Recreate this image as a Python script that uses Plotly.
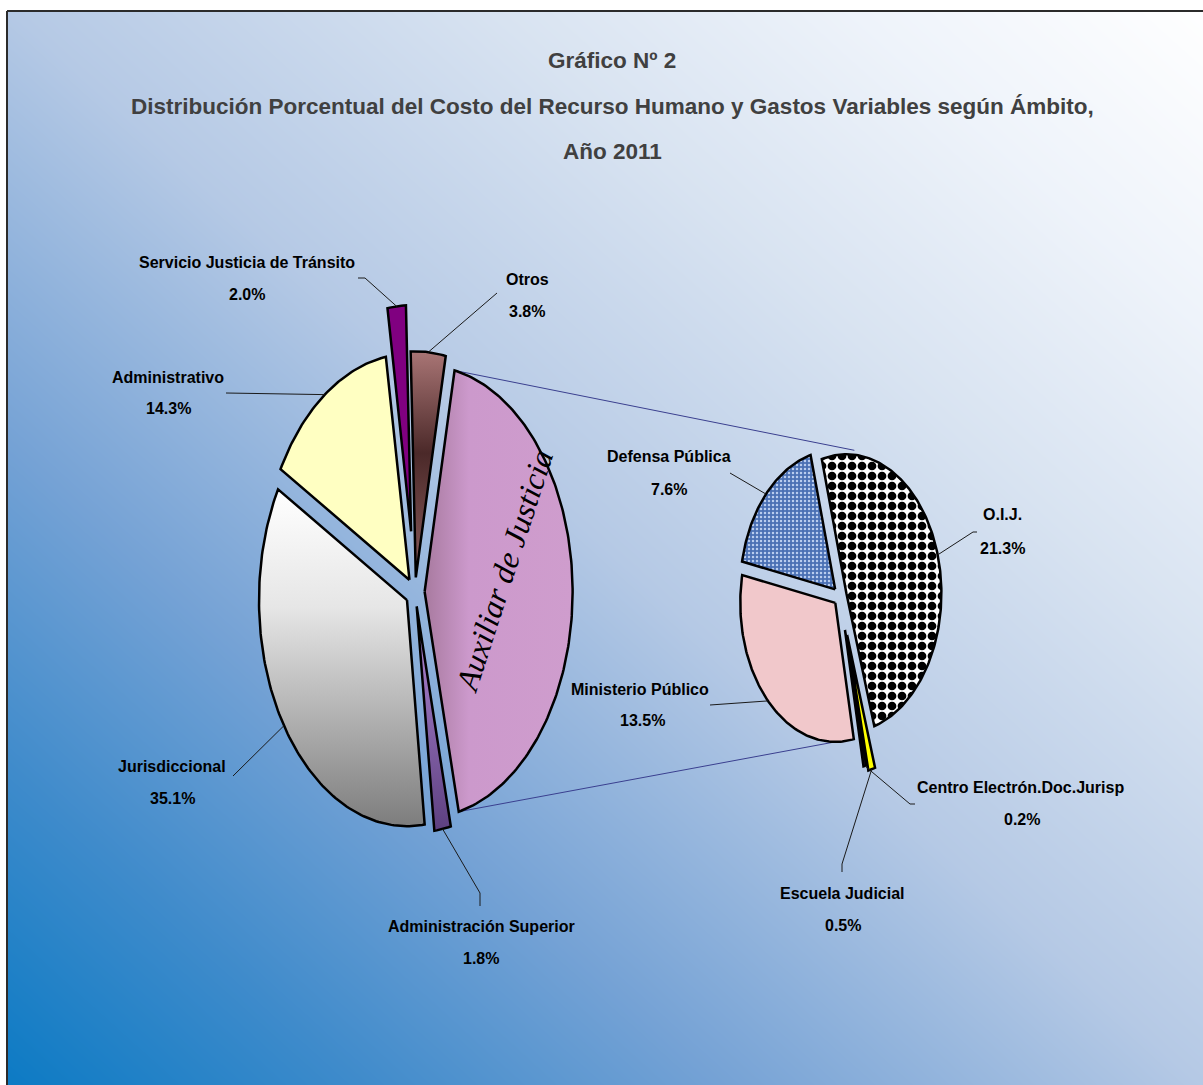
import numpy as np
import plotly.graph_objects as go

# ---------------- data ----------------
title_lines = ["Gráfico Nº 2",
               "Distribución Porcentual del Costo del Recurso Humano y Gastos Variables según Ámbito,",
               "Año 2011"]
main_labels = ["Otros", "Auxiliar de Justicia", "Administración Superior",
               "Jurisdiccional", "Administrativo", "Servicio Justicia de Tránsito"]
main_values = [3.8, 43.1, 1.8, 35.1, 14.3, 2.0]
sub_labels = ["O.I.J.", "Escuela Judicial", "Centro Electrón.Doc.Jurisp",
              "Ministerio Público", "Defensa Pública"]
sub_values = [21.3, 0.5, 0.2, 13.5, 7.6]

# ---------------- layout / style ----------------
W, H = 1203, 1085
FX, FY = 7, 11
FONT = "Liberation Sans Narrow, Arial Narrow, Liberation Sans, Arial, sans-serif"

MAIN = dict(cx=415, cy=592, rx=148, ry=226, start=-2.0)
SUB = dict(cx=840, cy=596, rx=95, ry=139, start=-15.0)
main_explode = [0.065, 0.065, 0.065, 0.065, 0.065, 0.27]
sub_explode = [0.07, 0.29, 0.25, 0.07, 0.07]

main_fill = [
    dict(kind="grad", cs=[[0, "#a97575"], [0.45, "#4b2929"], [1, "#8b5d5d"]]),
    dict(kind="hgrad", cs=[[0, "#a87a9f"], [0.3, "#cc99cc"], [1, "#cf9dcd"]]),
    dict(kind="grad", cs=[[0, "#b48bd8"], [1, "#5d4080"]]),
    dict(kind="grad", cs=[[0, "#ffffff"], [0.35, "#e6e6e6"], [1, "#7d7d7d"]]),
    dict(kind="solid", color="#ffffc2"),
    dict(kind="solid", color="#800080"),
]
sub_fill = [
    dict(kind="pattern", shape=".", bg="#ffffff", fg="#000000", size=10, sol=0.6),
    dict(kind="solid", color="#ffff00"),
    dict(kind="solid", color="#222222"),
    dict(kind="solid", color="#f1c8cb"),
    dict(kind="pattern", shape=".", bg="#4a70b4", fg="#b9cdef", size=4, sol=0.3),
]
# label placements (name centre, percentage centre, leader elbow points)
main_lab = {
    0: dict(name=(527, 279), pct=(527, 311), lead=[(497, 293)]),
    2: dict(name=(481, 926), pct=(481, 958), lead=[(480, 906), (480, 893)]),
    3: dict(name=(172, 766), pct=(172, 798), lead=[(233, 776)]),
    4: dict(name=(168, 377), pct=(168, 408), lead=[(226, 393)]),
    5: dict(name=(247, 262), pct=(247, 294), lead=[(358, 278), (365, 278)]),
}
sub_lab = {
    0: dict(name=(1002, 514), pct=(1002, 548), lead=[(977, 532), (973, 532)]),
    1: dict(name=(842, 893), pct=(843, 925), lead=[(842, 872), (842, 864)]),
    2: dict(name=(1020, 787), pct=(1022, 819), lead=[(915, 804), (910, 804)]),
    3: dict(name=(640, 689), pct=(642, 720), lead=[(710, 705)]),
    4: dict(name=(669, 456), pct=(669, 489), lead=[(730, 473)]),
}

fig = go.Figure()

# background gradient (bottom-left blue -> top-right white)
gx = np.linspace(-20, W + 20, 50)
gy = np.linspace(-20, H + 20, 50)
GX, GY = np.meshgrid(gx, gy)
Z = (GX / W + 1 - GY / H) / 2
fig.add_trace(go.Heatmap(
    x=gx, y=gy, z=Z, zmin=0, zmax=1, zsmooth="best", showscale=False, hoverinfo="skip",
    colorscale=[[0, "#0b7ac4"], [0.15, "#3f8bcb"], [0.3, "#75a2d5"], [0.5, "#b5c9e5"],
                [0.7, "#d8e3f1"], [0.85, "#eef3fa"], [1, "#ffffff"]]))


def wedges(values, geo, explode):
    total = float(sum(values))
    out = []
    a = geo["start"]
    for v, ex in zip(values, explode):
        a0, a1 = a, a + 360.0 * v / total
        a = a1
        mid = np.radians((a0 + a1) / 2)
        ox = geo["cx"] + ex * geo["rx"] * np.sin(mid)
        oy = geo["cy"] - ex * geo["ry"] * np.cos(mid)
        n = max(4, int(abs(a1 - a0) / 1.0) + 2)
        t = np.radians(np.linspace(a0, a1, n))
        xs = np.concatenate([[ox], ox + geo["rx"] * np.sin(t), [ox]])
        ys = np.concatenate([[oy], oy - geo["ry"] * np.cos(t), [oy]])
        anchor = (ox + geo["rx"] * np.sin(mid), oy - geo["ry"] * np.cos(mid))
        out.append(dict(x=xs, y=ys, a0=a0, a1=a1, o=(ox, oy), anchor=anchor))
    return out


def add_wedge(w, style, lw):
    kw = dict(x=w["x"], y=w["y"], mode="lines", fill="toself",
              line=dict(color="#000000", width=lw), hoverinfo="skip", showlegend=False)
    k = style["kind"]
    if k == "solid":
        kw["fillcolor"] = style["color"]
    elif k == "grad":
        kw["fillgradient"] = dict(type="vertical", colorscale=style["cs"],
                                  start=float(w["y"].min()), stop=float(w["y"].max()))
    elif k == "hgrad":
        kw["fillgradient"] = dict(type="horizontal", colorscale=style["cs"],
                                  start=float(w["x"].min()), stop=float(w["x"].max()))
    elif k == "pattern":
        kw["fillcolor"] = style["bg"]
        kw["fillpattern"] = dict(shape=style["shape"], bgcolor=style["bg"], fgcolor=style["fg"],
                                 fgopacity=1, size=style["size"], solidity=style["sol"])
    fig.add_trace(go.Scatter(**kw))


mw = wedges(main_values, MAIN, main_explode)
sw = wedges(sub_values, SUB, sub_explode)

# connector lines between "Auxiliar de Justicia" and the secondary pie
aux = mw[1]
top_main = (aux["x"][1], aux["y"][1])
bot_main = (aux["x"][-2], aux["y"][-2])
oij, mp = sw[0], sw[3]
top_sub = (oij["o"][0] + 8, oij["o"][1] - SUB["ry"] - 4)
bot_sub = (mp["o"][0], mp["o"][1] + SUB["ry"])
for p, q in [(top_main, top_sub), (bot_main, bot_sub)]:
    fig.add_trace(go.Scatter(x=[p[0], q[0]], y=[p[1], q[1]], mode="lines",
                             line=dict(color="#3a3f8f", width=1), hoverinfo="skip", showlegend=False))

for w, st in zip(mw, main_fill):
    add_wedge(w, st, 2.5)
for w, st in zip(sw, sub_fill):
    add_wedge(w, st, 2.5)

# leader lines and labels
annotations = []


def label_block(labels, values, ws, labmap):
    for i, spec in labmap.items():
        pts = spec["lead"] + [ws[i]["anchor"]]
        fig.add_trace(go.Scatter(x=[p[0] for p in pts], y=[p[1] for p in pts], mode="lines",
                                 line=dict(color="#1a1a1a", width=1), hoverinfo="skip",
                                 showlegend=False))
        for txt, pos in [(labels[i], spec["name"]), (f"{values[i]:.1f}%", spec["pct"])]:
            annotations.append(dict(x=pos[0], y=pos[1], xref="x", yref="y", text=f"<b>{txt}</b>",
                                    showarrow=False, xanchor="center", yanchor="middle",
                                    font=dict(family=FONT, size=16, color="#000000")))


label_block(main_labels, main_values, mw, main_lab)
label_block(sub_labels, sub_values, sw, sub_lab)

# rotated category name inside the exploded slice
annotations.append(dict(x=504, y=571, xref="x", yref="y", text=main_labels[1], showarrow=False,
                        textangle=-72, xanchor="center", yanchor="middle",
                        font=dict(family="Liberation Serif, Times New Roman, serif", size=32,
                                  color="#000000", style="italic")))

# title
for txt, y in zip(title_lines, [61, 107, 152]):
    annotations.append(dict(x=612, y=y, xref="x", yref="y", text=f"<b>{txt}</b>", showarrow=False,
                            xanchor="center", yanchor="middle",
                            font=dict(family=FONT, size=22.5, color="#404040")))

fig.update_layout(
    width=W, height=H, autosize=False,
    margin=dict(l=0, r=0, t=0, b=0, pad=0),
    paper_bgcolor="#ffffff", plot_bgcolor="#ffffff",
    showlegend=False,
    xaxis=dict(range=[FX, W], domain=[FX / W, 1], visible=False, fixedrange=True),
    yaxis=dict(range=[H, FY], domain=[0, 1 - FY / H], visible=False, fixedrange=True),
    annotations=annotations,
    shapes=[
        dict(type="line", xref="paper", yref="paper", x0=FX / W, x1=1, y0=1 - FY / H, y1=1 - FY / H,
             line=dict(color="#2b2b2b", width=2)),
        dict(type="line", xref="paper", yref="paper", x0=FX / W, x1=FX / W, y0=0, y1=1 - FY / H,
             line=dict(color="#2b2b2b", width=2)),
    ],
)

fig.write_html("out.html", config={"displayModeBar": False},
               post_script="document.body.style.margin='0';document.body.style.overflow='hidden';")
